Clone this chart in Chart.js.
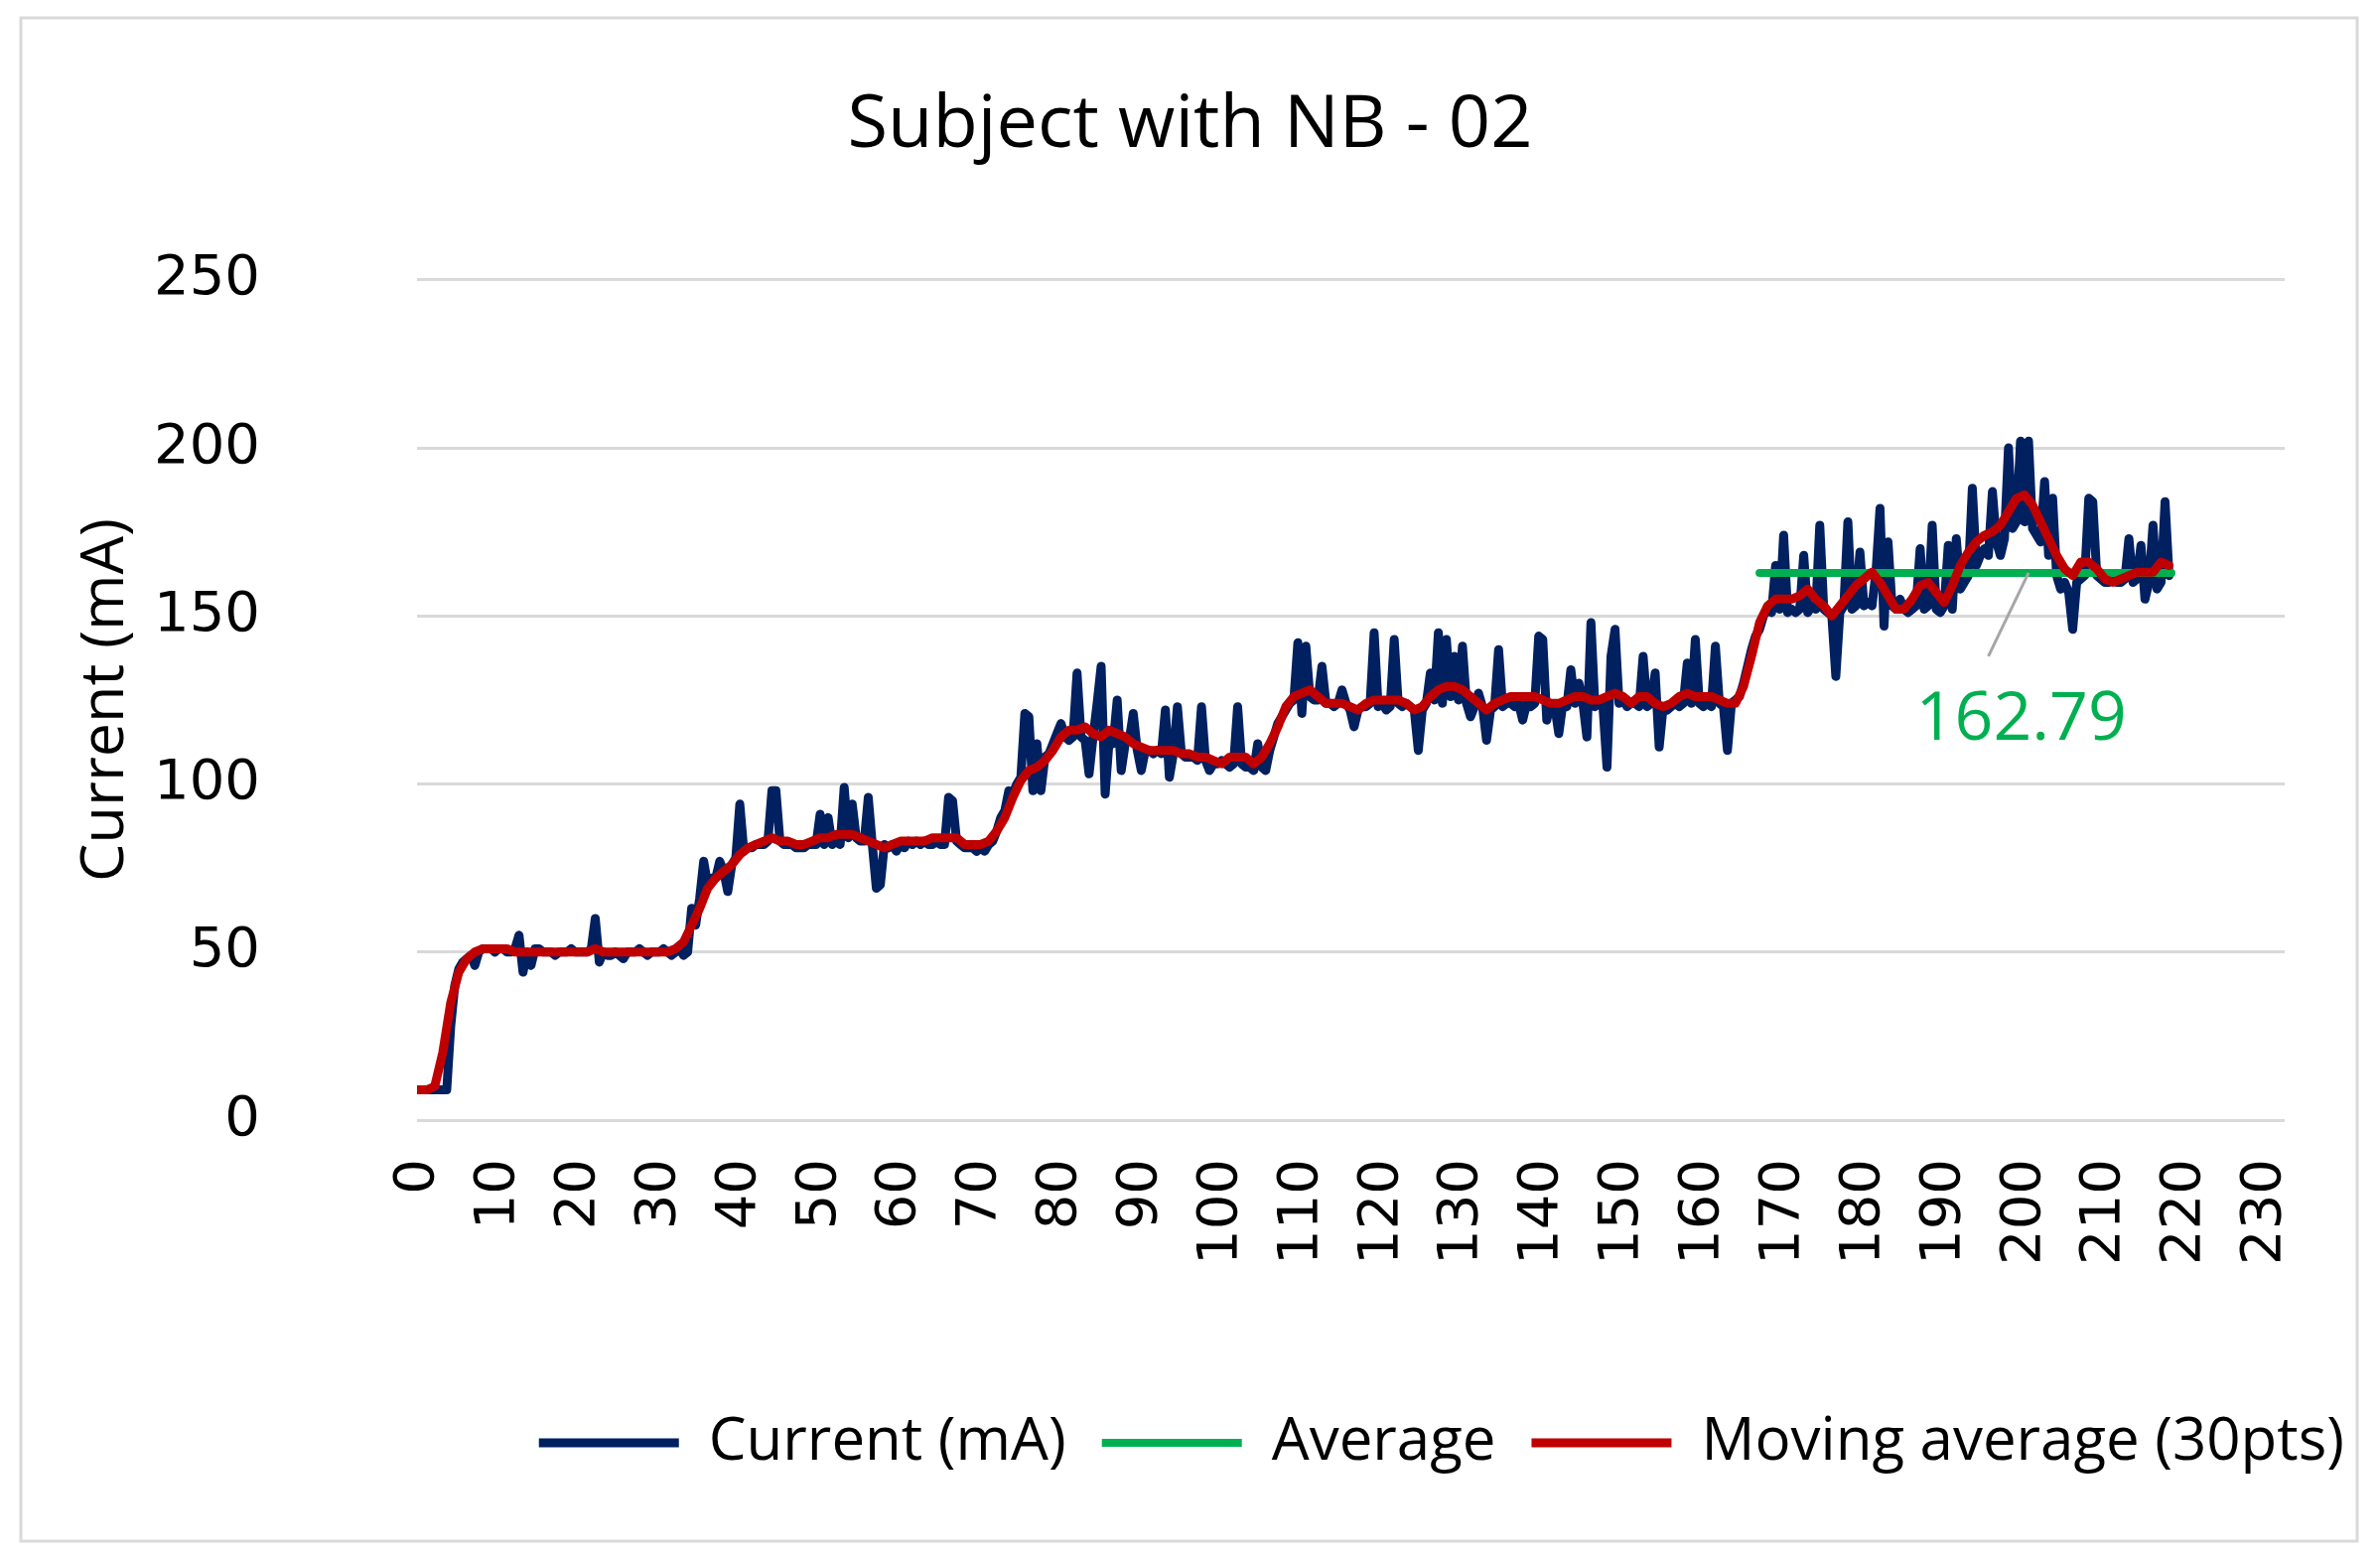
<!DOCTYPE html>
<html>
<head>
<meta charset="utf-8">
<title>Subject with NB - 02</title>
<script src="https://cdn.jsdelivr.net/npm/chart.js@4.4.1/dist/chart.umd.min.js"></script>
<style>
  html, body { margin: 0; padding: 0; background: #fff; }
  #wrap { width: 2397px; height: 1571px; }
</style>
</head>
<body>
<div id="wrap"><canvas id="chart" width="2397" height="1571"></canvas></div>
<script>
// Data
const sampleStep = 0.5; // s between current samples
const currentValues = [
    9, 9, 9, 9, 9, 9, 9, 9, 28, 40,
    45, 47, 48, 49, 46, 50, 51, 51, 51, 50,
    51, 51, 50, 50, 51, 55, 44, 50, 46, 51,
    51, 50, 50, 50, 49, 50, 50, 50, 51, 50,
    50, 50, 50, 51, 60, 47, 50, 49, 49, 50,
    49, 48, 50, 50, 50, 51, 50, 49, 50, 50,
    50, 51, 50, 49, 50, 51, 49, 50, 63, 58,
    66, 77, 70, 72, 72, 77, 74, 68, 76, 78,
    94, 80, 81, 81, 82, 82, 82, 83, 98, 98,
    83, 82, 82, 82, 81, 81, 81, 82, 82, 82,
    91, 82, 90, 82, 83, 82, 99, 84, 94, 84,
    83, 83, 96, 82, 69, 70, 82, 81, 82, 80,
    82, 81, 83, 82, 83, 82, 83, 82, 82, 83,
    82, 82, 96, 95, 83, 82, 81, 81, 81, 80,
    81, 80, 82, 83, 86, 90, 92, 98, 97, 100,
    102, 121, 120, 98, 112, 98, 108, 109, 112, 115,
    118, 114, 113, 114, 133, 114, 113, 103, 114, 124,
    135, 97, 113, 112, 125, 104, 112, 113, 121, 110,
    104, 110, 110, 109, 110, 109, 122, 102, 109, 123,
    109, 108, 108, 108, 107, 123, 107, 104, 106, 106,
    107, 106, 105, 106, 123, 106, 105, 105, 104, 112,
    105, 104, 110, 114, 118, 120, 122, 124, 125, 142,
    121, 141, 126, 125, 125, 135, 124, 124, 123, 124,
    128, 124, 122, 117, 122, 123, 123, 124, 145, 123,
    124, 122, 123, 143, 124, 123, 124, 123, 122, 110,
    122, 124, 133, 125, 145, 124, 143, 126, 138, 125,
    141, 124, 120, 123, 127, 123, 113, 122, 123, 140,
    123, 124, 124, 123, 124, 119, 124, 123, 124, 144,
    143, 119, 124, 123, 115, 124, 123, 134, 124, 130,
    124, 114, 148, 123, 124, 123, 105, 138, 146, 124,
    125, 123, 124, 124, 123, 138, 123, 124, 133, 111,
    123, 122, 123, 124, 123, 124, 136, 124, 143, 124,
    123, 124, 123, 141, 124, 123, 110, 124, 125, 126,
    130, 135, 140, 144, 146, 150, 152, 151, 165, 152,
    174, 151, 152, 151, 152, 168, 151, 153, 152, 177,
    152, 151, 150, 132, 151, 153, 178, 152, 153, 169,
    153, 154, 153, 163, 182, 147, 172, 153, 152, 155,
    152, 151, 152, 153, 170, 152, 153, 177, 152, 151,
    153, 171, 152, 173, 158, 160, 162, 188, 165, 168,
    170, 168, 187, 172, 168, 173, 200, 176, 178, 202,
    178, 202, 176, 174, 172, 190, 168, 185, 162, 158,
    160, 157, 146, 160, 161, 162, 185, 184, 162, 161,
    160, 160, 161, 160, 160, 161, 173, 160, 161, 171,
    155, 160, 177, 158, 160, 184, 162
];

const movingAvgStep = 1; // s between moving-average points
const movingAvgValues = [
    9, 9, 10, 20, 35, 44, 48, 50, 51, 51,
    51, 51, 50, 50, 50, 50, 50, 50, 50, 50,
    50, 50, 51, 50, 50, 50, 50, 50, 50, 50,
    50, 50, 51, 53, 58, 63, 69, 72, 74, 76,
    79, 81, 82, 83, 84, 83, 83, 82, 82, 83,
    84, 84, 85, 85, 85, 84, 83, 82, 81, 82,
    83, 83, 83, 83, 84, 84, 84, 84, 82, 82,
    82, 83, 86, 90, 96, 101, 104, 105, 107, 110,
    114, 116, 116, 117, 115, 114, 116, 115, 114, 112,
    111, 110, 110, 110, 110, 109, 109, 108, 108, 107,
    106, 108, 108, 108, 106, 108, 112, 117, 123, 126,
    127, 128, 126, 124, 124, 124, 123, 122, 124, 125,
    125, 125, 125, 124, 122, 123, 126, 128, 129, 129,
    128, 126, 124, 122, 124, 125, 126, 126, 126, 126,
    125, 124, 124, 125, 126, 126, 125, 125, 126, 127,
    126, 124, 126, 126, 124, 123, 124, 126, 127, 126,
    126, 126, 125, 124, 124, 129, 138, 148, 153, 155,
    155, 155, 156, 158, 155, 153, 150, 153, 156, 159,
    161, 163, 160, 156, 152, 152, 155, 159, 160, 157,
    154, 159, 165, 169, 172, 174, 175, 177, 181, 185,
    186, 183, 178, 173, 168, 164, 162, 166, 166, 164,
    161, 160, 161, 162, 163, 163, 163, 166, 165
];

const averageValue = 162.79;
const averageSpan = [167, 218.3]; // s

const xTickValues = [0, 10, 20, 30, 40, 50, 60, 70, 80, 90, 100, 110,
    120, 130, 140, 150, 160, 170, 180, 190, 200, 210, 220, 230];
const yTickValues = [0, 50, 100, 150, 200, 250];

// where the "162.79" callout sits, in data units
const callout = { text: '162.79', at: [199.6, 119], from: [195.5, 138], to: [200.5, 162.8] };

// Helpers
const currentPoints = currentValues.map((v, i) => ({ x: i * sampleStep, y: v }));
const movingAvgPoints = movingAvgValues.map((v, i) => ({ x: i * movingAvgStep, y: v }));
const averagePoints = averageSpan.map(t => ({ x: t, y: averageValue }));

function setTicks(values) {
    return scale => { scale.ticks = values.map(v => ({ value: v })); };
}

// Plugins
const frame = {
    id: 'frame',
    beforeDraw(chart) {
        const ctx = chart.ctx;
        ctx.save();
        ctx.fillStyle = '#fff';
        ctx.fillRect(0, 0, chart.width, chart.height);
        ctx.strokeStyle = '#d9d9d9';
        ctx.lineWidth = 3;
        ctx.strokeRect(21, 18, 2353, 1534);
        ctx.restore();
    }
};

const averageCallout = {
    id: 'averageCallout',
    afterDatasetsDraw(chart) {
        const { ctx, scales: { x, y } } = chart;
        ctx.save();
        ctx.strokeStyle = '#a6a6a6';
        ctx.lineWidth = 3;
        ctx.beginPath();
        ctx.moveTo(x.getPixelForValue(callout.from[0]), y.getPixelForValue(callout.from[1]));
        ctx.lineTo(x.getPixelForValue(callout.to[0]), y.getPixelForValue(callout.to[1]));
        ctx.stroke();
        ctx.fillStyle = '#00b050';
        ctx.font = "68px 'Open Sans'";
        ctx.textAlign = 'center';
        ctx.textBaseline = 'middle';
        ctx.fillText(callout.text, x.getPixelForValue(callout.at[0]), y.getPixelForValue(callout.at[1]));
        ctx.restore();
    }
};

const tickFont = { family: "'DejaVu Sans', sans-serif", size: 56 };

const chart = new Chart(document.getElementById('chart'), {
    type: 'line',
    data: {
        datasets: [
            { label: 'Current (mA)', data: currentPoints, borderColor: '#002060', backgroundColor: '#002060',
              borderWidth: 9, order: 3 },
            { label: 'Average', data: averagePoints, borderColor: '#00b050', backgroundColor: '#00b050',
              borderWidth: 8, order: 2 },
            { label: 'Moving average (30pts)', data: movingAvgPoints, borderColor: '#c00000', backgroundColor: '#c00000',
              borderWidth: 9, order: 1 }
        ]
    },
    options: {
        responsive: false,
        devicePixelRatio: 1,
        animation: false,
        events: [],
        layout: { padding: { left: 0, right: 0, top: 0, bottom: 78 } },
        elements: {
            point: { radius: 0 },
            line: { tension: 0, borderCapStyle: 'round', borderJoinStyle: 'round' }
        },
        plugins: {
            title: {
                display: true,
                text: 'Subject with NB - 02',
                color: '#000',
                font: { family: "'Open Sans', sans-serif", size: 74, weight: 'normal' },
                padding: { top: 83, bottom: 110 }
            },
            legend: {
                position: 'bottom',
                align: 'end',
                labels: {
                    usePointStyle: true,
                    pointStyle: 'line',
                    pointStyleWidth: 141,
                    color: '#000',
                    font: { family: "'Open Sans', sans-serif", size: 60 },
                    padding: 36,
                    sort: (a, b) => a.datasetIndex - b.datasetIndex
                }
            },
            tooltip: { enabled: false }
        },
        scales: {
            x: {
                type: 'linear',
                min: -0.2,
                max: 232.4,
                grid: { display: false },
                border: { display: false },
                afterBuildTicks: setTicks(xTickValues),
                afterFit: s => { s.height = 259; },
                ticks: { autoSkip: false, minRotation: 90, maxRotation: 90, padding: 31, color: '#000', font: tickFont }
            },
            y: {
                type: 'linear',
                min: 0,
                max: 250,
                grid: { color: '#d9d9d9', lineWidth: 3, drawTicks: false },
                border: { display: false },
                afterBuildTicks: setTicks(yTickValues),
                afterFit: s => { s.width = 420; },
                ticks: { padding: 158, color: '#000', font: tickFont },
                title: {
                    display: true,
                    text: 'Current (mA)',
                    color: '#000',
                    font: { family: "'Open Sans', sans-serif", size: 61 },
                    padding: { top: 70, bottom: 0 }
                }
            },
            // empty right-hand strip so the plot ends where the reference does
            yPad: {
                axis: 'y',
                position: 'right',
                grid: { display: false },
                border: { display: false },
                ticks: { display: false },
                afterFit: s => { s.width = 96; }
            }
        }
    },
    plugins: [frame, averageCallout]
});
</script>
</body>
</html>
